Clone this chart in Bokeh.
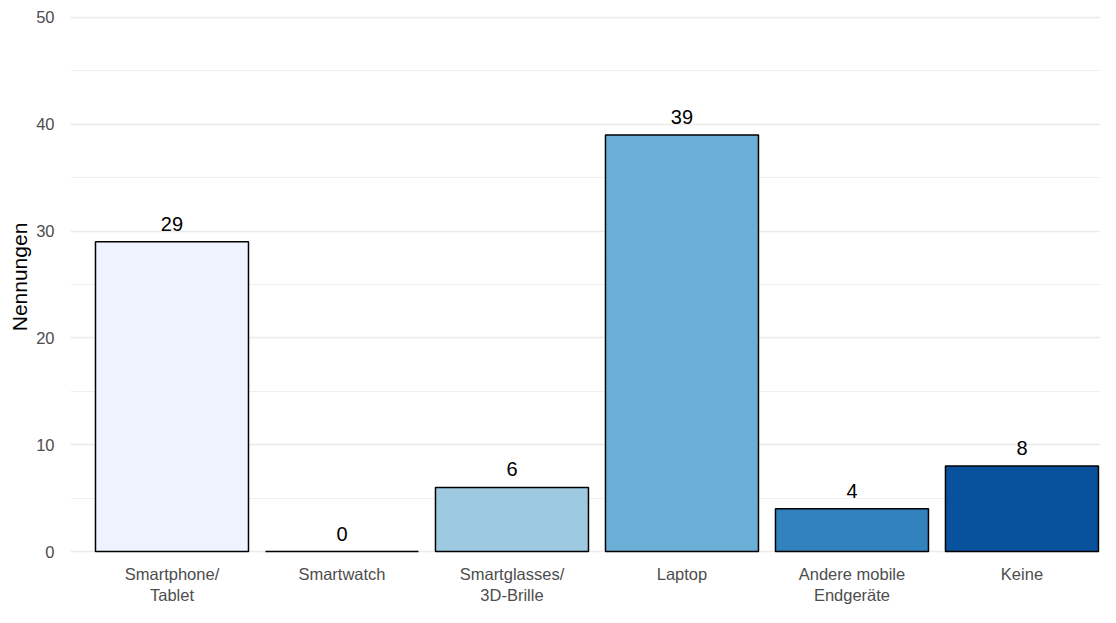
from bokeh.plotting import figure
from bokeh.models import ColumnDataSource, Range1d, FixedTicker
from bokeh.embed import file_html
from bokeh.resources import INLINE
from bokeh.core.properties import value

categories = ["Smartphone/\nTablet", "Smartwatch", "Smartglasses/\n3D-Brille", "Laptop",
              "Andere mobile\nEndgeräte", "Keine"]
counts = [29, 0, 6, 39, 4, 8]
colors = ["#EFF3FF", "#C6DBEF", "#9ECAE1", "#6BAED6", "#3182BD", "#08519C"]
y_ticks = [0, 10, 20, 30, 40, 50]
y_minor = [5, 15, 25, 35, 45]

xs = list(range(len(categories)))
src = ColumnDataSource(dict(x=xs, top=counts, color=colors, label=[str(c) for c in counts]))

p = figure(width=1100, height=607, output_backend="svg", toolbar_location=None,
           x_range=Range1d(-0.597, 5.462), y_range=Range1d(-0.187, 51.59),
           min_border_left=70, min_border_right=0, min_border_top=0, min_border_bottom=47)
p.outline_line_color = None
p.background_fill_color = "white"
p.border_fill_color = "white"

p.vbar(x="x", top="top", bottom=0, width=0.9, fill_color="color", line_color="black",
       line_width=1.5, source=src)
p.text(x="x", y="top", text="label", source=src, text_align="center", text_baseline="bottom",
       y_offset=-11, text_font=value("Liberation Sans"), text_font_size="20px", text_color="black")

p.xaxis.ticker = FixedTicker(ticks=xs)
p.xaxis.major_label_overrides = {i: c for i, c in zip(xs, categories)}
p.yaxis.ticker = FixedTicker(ticks=y_ticks, minor_ticks=y_minor)

for ax in (p.xaxis[0], p.yaxis[0]):
    ax.axis_line_color = None
    ax.major_tick_line_color = None
    ax.minor_tick_line_color = None
    ax.major_label_text_font = "Liberation Sans"
    ax.major_label_text_font_size = "16.5px"
    ax.major_label_text_color = "#4D4D4D"
p.xaxis.major_label_standoff = 5
p.yaxis.major_label_standoff = 10
p.yaxis.axis_label = "Nennungen"
p.yaxis.axis_label_text_font = "Liberation Sans"
p.yaxis.axis_label_text_font_style = "normal"
p.yaxis.axis_label_text_font_size = "21px"
p.yaxis.axis_label_text_color = "black"
p.yaxis.axis_label_standoff = 2

p.xgrid.grid_line_color = None
p.ygrid.grid_line_color = "#EBEBEB"
p.ygrid.grid_line_width = 1.5
p.ygrid.minor_grid_line_color = "#EFEFEF"
p.ygrid.minor_grid_line_width = 1.2

open("out.html", "w").write(file_html(p, INLINE))
